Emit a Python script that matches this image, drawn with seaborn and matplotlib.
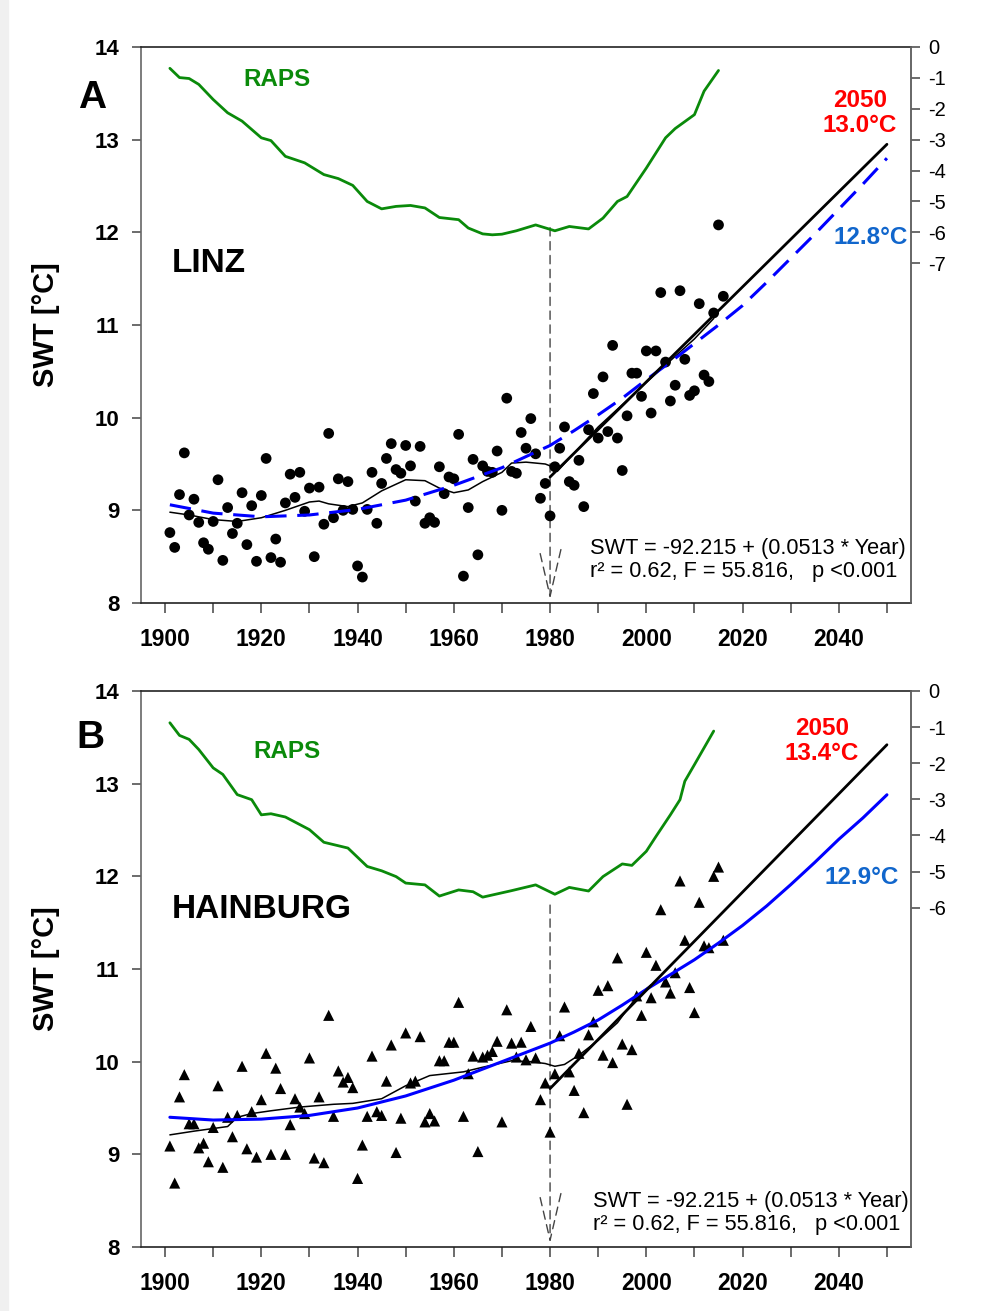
import numpy as np
import pandas as pd
import matplotlib
matplotlib.use("Agg")
import matplotlib.pyplot as plt
from matplotlib.patches import Rectangle
import seaborn as sns

# ---------------- data ----------------
years = list(range(1901, 2017))

linz_swt = [8.76, 8.60, 9.17, 9.62, 8.95, 9.12, 8.87, 8.65, 8.58, 8.88,
            9.33, 8.46, 9.03, 8.75, 8.86, 9.19, 8.63, 9.05, 8.45, 9.16,
            9.56, 8.49, 8.69, 8.44, 9.08, 9.39, 9.14, 9.41, 8.99, 9.24,
            8.50, 9.25, 8.85, 9.83, 8.92, 9.34, 9.00, 9.31, 9.01, 8.40,
            8.28, 9.01, 9.41, 8.86, 9.29, 9.56, 9.72, 9.44, 9.40, 9.70,
            9.48, 9.10, 9.69, 8.86, 8.92, 8.87, 9.47, 9.18, 9.36, 9.34,
            9.82, 8.29, 9.03, 9.55, 8.52, 9.48, 9.42, 9.41, 9.64, 9.00,
            10.21, 9.42, 9.40, 9.84, 9.67, 9.99, 9.61, 9.13, 9.29, 8.94,
            9.47, 9.67, 9.90, 9.31, 9.27, 9.54, 9.04, 9.87, 10.26, 9.78,
            10.44, 9.85, 10.78, 9.78, 9.43, 10.02, 10.48, 10.48, 10.23, 10.72,
            10.05, 10.72, 11.35, 10.60, 10.18, 10.35, 11.37, 10.63, 10.24, 10.29,
            11.23, 10.46, 10.39, 11.13, 12.08, 11.31]

hainburg_swt = [9.09, 8.69, 9.62, 9.86, 9.33, 9.33, 9.07, 9.12, 8.92, 9.29,
                9.74, 8.86, 9.40, 9.19, 9.42, 9.95, 9.06, 9.46, 8.97, 9.59,
                10.09, 9.00, 9.93, 9.71, 9.00, 9.32, 9.60, 9.51, 9.44, 10.04,
                8.96, 9.62, 8.91, 10.50, 9.41, 9.90, 9.78, 9.83, 9.72, 8.74,
                9.10, 9.41, 10.06, 9.46, 9.42, 9.79, 10.18, 9.02, 9.39, 10.31,
                9.77, 9.79, 10.27, 9.35, 9.44, 9.36, 10.01, 10.01, 10.21, 10.21,
                10.64, 9.41, 9.87, 10.06, 9.03, 10.05, 10.07, 10.11, 10.22, 9.35,
                10.56, 10.20, 10.05, 10.21, 10.02, 10.38, 10.04, 9.59, 9.77, 9.24,
                9.87, 10.28, 10.59, 9.89, 9.69, 10.09, 9.45, 10.29, 10.43, 10.77,
                10.07, 10.82, 9.99, 11.12, 10.19, 9.54, 10.13, 10.71, 10.50, 11.18,
                10.69, 11.04, 11.64, 10.86, 10.74, 10.96, 11.95, 11.31, 10.80, 10.53,
                11.72, 11.25, 11.23, 12.00, 12.10, 11.31]

# polynomial fits
fit_years = [1901, 1910, 1920, 1930, 1940, 1950, 1960, 1970, 1980, 1985,
             1990, 1995, 2000, 2005, 2010, 2015, 2020, 2025, 2030, 2035,
             2040, 2045, 2050]
linz_fit = [9.06, 8.97, 8.93, 8.95, 9.01, 9.11, 9.27, 9.46, 9.70, 9.86,
            10.03, 10.21, 10.41, 10.60, 10.80, 11.00, 11.21, 11.46, 11.72, 11.98,
            12.25, 12.52, 12.80]
hainburg_fit = [9.40, 9.37, 9.38, 9.42, 9.50, 9.63, 9.80, 10.00, 10.20, 10.32,
                10.45, 10.61, 10.78, 10.94, 11.10, 11.28, 11.47, 11.68, 11.91, 12.15,
                12.40, 12.63, 12.88]

# linear trends 1980-2050
trend_years = [1980, 2050]
linz_trend = [9.36, 12.95]
hainburg_trend = [9.71, 13.42]

# thin smoothers
linz_smooth_years = [1901, 1905, 1910, 1915, 1920, 1925, 1930, 1932, 1934, 1938,
                     1941, 1945, 1950, 1954, 1957, 1960, 1963, 1966, 1970, 1972,
                     1975, 1979, 1980, 1981.5, 1990, 2000, 2010, 2014]
linz_smooth = [8.98, 8.95, 8.90, 8.88, 8.92, 9.00, 9.09, 9.10, 9.07, 9.04,
               9.08, 9.21, 9.33, 9.32, 9.24, 9.19, 9.22, 9.31, 9.41, 9.51,
               9.52, 9.50, 9.48, 9.42, 9.90, 10.38, 10.85, 11.07]
hainburg_smooth_years = [1901, 1906, 1913, 1915, 1918, 1922, 1928, 1935, 1939, 1945,
                         1950, 1955, 1962, 1966, 1972, 1976, 1979, 1981, 1983, 1986,
                         1990, 1994, 1998, 2001]
hainburg_smooth = [9.21, 9.25, 9.30, 9.40, 9.44, 9.47, 9.51, 9.54, 9.55, 9.60,
                   9.74, 9.85, 9.89, 9.94, 10.01, 10.00, 9.98, 9.95, 9.97, 10.07,
                   10.23, 10.42, 10.70, 10.83]

# RAPS (right axis)
linz_raps_years = [1901, 1903, 1905, 1907, 1910, 1913, 1916, 1918, 1920, 1922,
                   1925, 1929, 1933, 1936, 1939, 1942, 1945, 1948, 1951, 1954,
                   1957, 1961, 1963, 1966, 1968, 1970, 1973, 1977, 1981, 1984,
                   1988, 1991, 1994, 1996, 2000, 2004, 2006, 2010, 2012, 2015]
linz_raps = [-0.69, -0.99, -1.02, -1.21, -1.70, -2.13, -2.40, -2.67, -2.94, -3.03,
             -3.54, -3.75, -4.13, -4.26, -4.48, -5.00, -5.24, -5.16, -5.13, -5.21,
             -5.52, -5.59, -5.86, -6.05, -6.08, -6.06, -5.95, -5.76, -5.95, -5.81,
             -5.89, -5.54, -5.00, -4.84, -3.92, -2.94, -2.64, -2.19, -1.43, -0.76]
hainburg_raps_years = [1901, 1903, 1905, 1907, 1910, 1912, 1915, 1918, 1920, 1922,
                       1925, 1930, 1933, 1938, 1942, 1945, 1948, 1950, 1954, 1957,
                       1961, 1964, 1966, 1969, 1972, 1977, 1981, 1984, 1988, 1991,
                       1995, 1997, 2000, 2002, 2005, 2007, 2008, 2010, 2014]
hainburg_raps = [-0.88, -1.23, -1.34, -1.62, -2.13, -2.31, -2.87, -3.01, -3.43, -3.40,
                 -3.49, -3.84, -4.19, -4.35, -4.86, -4.98, -5.14, -5.32, -5.37, -5.68,
                 -5.51, -5.56, -5.71, -5.62, -5.53, -5.37, -5.63, -5.44, -5.54, -5.14,
                 -4.79, -4.83, -4.44, -4.03, -3.43, -3.01, -2.50, -2.04, -1.11]

equation_lines = "SWT = -92.215 + (0.0513 * Year)\nr\u00b2 = 0.62, F = 55.816,   p <0.001"

# ---------------- style ----------------
sns.set_theme(style="ticks")
plt.rcParams["font.family"] = ["Liberation Sans", "DejaVu Sans"]
plt.rcParams["axes.unicode_minus"] = False
plt.rcParams["text.color"] = "black"
plt.rcParams["axes.labelcolor"] = "black"

W, H = 1008, 1311
fig = plt.figure(figsize=(W / 100, H / 100), dpi=100)
fig.patch.set_facecolor("white")
fig.patches.append(Rectangle((0, 0), 8 / W, 1, transform=fig.transFigure,
                             color="#f0f0f0", zorder=-1))

GREEN = "#0a8a0a"
BLUE_TXT = "#1166cc"


def panel(top_px, swt, marker, msize, fit, fit_style, trend, sm_years, sm_vals,
          raps_years, raps, raps_ylim, raps_ticks, letter, site, n2050, lbl_fit,
          pos):
    ax = fig.add_axes([141 / W, 1 - (top_px + 556) / H, 770 / W, 556 / H])
    ax.set_facecolor("white")
    ax2 = ax.twinx()
    ax2.set_ylim(*raps_ylim)
    ax2.set_yticks(raps_ticks)
    ax2.set_yticklabels([str(t) for t in raps_ticks], fontsize=14.5, color="black")
    ax2.tick_params(axis="y", direction="out", length=6.5, width=1.1, pad=6,
                    color="#444", labelcolor="black")
    for s in ["top", "left", "bottom"]:
        ax2.spines[s].set_visible(False)
    ax2.spines["right"].set_color("#666666")
    ax2.spines["right"].set_linewidth(1.2)
    sns.lineplot(x=raps_years, y=raps, ax=ax2, color=GREEN, linewidth=2.0, zorder=2)
    ax2.set_ylabel("")

    # vertical 1980 marker with open arrowhead
    ax.annotate("", xy=(1980, 8.04), xytext=(1980, pos["vtop"]),
                arrowprops=dict(arrowstyle="->,head_length=2.8,head_width=0.65",
                                color="#444444", lw=1.0, linestyle=(0, (6, 4)),
                                shrinkA=0, shrinkB=0), zorder=1)

    sns.scatterplot(x=years, y=swt, ax=ax, color="black", marker=marker, s=msize,
                    edgecolor="none", linewidth=0, zorder=3)
    sns.lineplot(x=sm_years, y=sm_vals, ax=ax, color="black", linewidth=1.1, zorder=4)
    sns.lineplot(x=fit_years, y=fit, ax=ax, color="#0000ff", linewidth=2.2,
                 linestyle=fit_style, zorder=4)
    sns.lineplot(x=trend_years, y=trend, ax=ax, color="black", linewidth=2.0, zorder=5)

    ax.set_xlim(1895, 2055)
    ax.set_ylim(8, 14)
    ax.set_xticks(range(1900, 2041, 20))
    ax.set_xticks(range(1910, 2051, 20), minor=True)
    ax.set_xticklabels([str(y) for y in range(1900, 2041, 20)],
                       fontsize=16.5, fontweight="bold")
    ax.set_yticks(range(8, 15))
    ax.set_yticklabels([str(v) for v in range(8, 15)], fontsize=16, fontweight="bold")
    ax.tick_params(axis="x", which="both", direction="out", length=7, width=1.1,
                   pad=11, color="#444", labelcolor="black")
    ax.tick_params(axis="y", direction="out", length=6.5, width=1.1, pad=9,
                   color="#444", labelcolor="black")
    ax.tick_params(axis="y", which="minor", left=False)
    for s, c in [("top", "#222"), ("bottom", "#222"), ("left", "#666"), ("right", "#666")]:
        ax.spines[s].set_visible(True)
        ax.spines[s].set_color(c)
        ax.spines[s].set_linewidth(1.2)
    ax.set_xlabel("")
    ax.set_ylabel("SWT [\u00b0C]", fontsize=21, fontweight="bold", color="black")
    ax.yaxis.set_label_coords(-0.105, 0.5)

    fig.text(pos["letter"][0] / W, 1 - pos["letter"][1] / H, letter, color="black",
             fontsize=28, fontweight="bold", ha="center", va="center")
    ax.text(pos["raps"][0], pos["raps"][1], "RAPS", transform=ax.transAxes,
            color=GREEN, fontsize=17.5, fontweight="bold", ha="center", va="center")
    ax.text(pos["site"][0], pos["site"][1], site, transform=ax.transAxes,
            color="black", fontsize=24, fontweight="bold", ha="left", va="center")
    ax.text(pos["n2050"][0], pos["n2050"][1], n2050, transform=ax.transAxes,
            color="#ff0000", fontsize=17.5, fontweight="bold", ha="center",
            va="center", linespacing=1.15)
    ax.text(pos["fit"][0], pos["fit"][1], lbl_fit, transform=ax.transAxes,
            color=BLUE_TXT, fontsize=17.5, fontweight="bold", ha="center", va="center")
    ax.text(pos["eq"][0], pos["eq"][1], equation_lines, transform=ax.transAxes,
            color="black", fontsize=15.7, ha="left", va="center", linespacing=1.1)
    return ax


def fx(px):
    return (px - 141) / 770


def fy(py, top):
    return (top + 556 - py) / 556


topA, topB = 47, 691
panel(topA, linz_swt, "o", 60, linz_fit, (0, (7, 3.5)), linz_trend,
      linz_smooth_years, linz_smooth, linz_raps_years, linz_raps, (-18, 0),
      list(range(0, -8, -1)), "A", "LINZ", "2050\n13.0\u00b0C", "12.8\u00b0C",
      dict(vtop=12.05, letter=(92, 98), raps=(fx(277), fy(79, topA)),
           site=(fx(172), fy(264, topA)), n2050=(fx(860), fy(113, topA)),
           fit=(fx(871), fy(237, topA)), eq=(fx(590), fy(560, topA))))
panel(topB, hainburg_swt, "^", 64, hainburg_fit, "-", hainburg_trend,
      hainburg_smooth_years, hainburg_smooth, hainburg_raps_years, hainburg_raps,
      (-15.4, 0), list(range(0, -7, -1)), "B", "HAINBURG", "2050\n13.4\u00b0C",
      "12.9\u00b0C",
      dict(vtop=11.69, letter=(90, 738), raps=(fx(287), fy(751, topB)),
           site=(fx(172), fy(910, topB)), n2050=(fx(822), fy(741, topB)),
           fit=(fx(862), fy(877, topB)), eq=(fx(593), fy(1213, topB))))

fig.savefig("out.png", dpi=100, facecolor="white")
